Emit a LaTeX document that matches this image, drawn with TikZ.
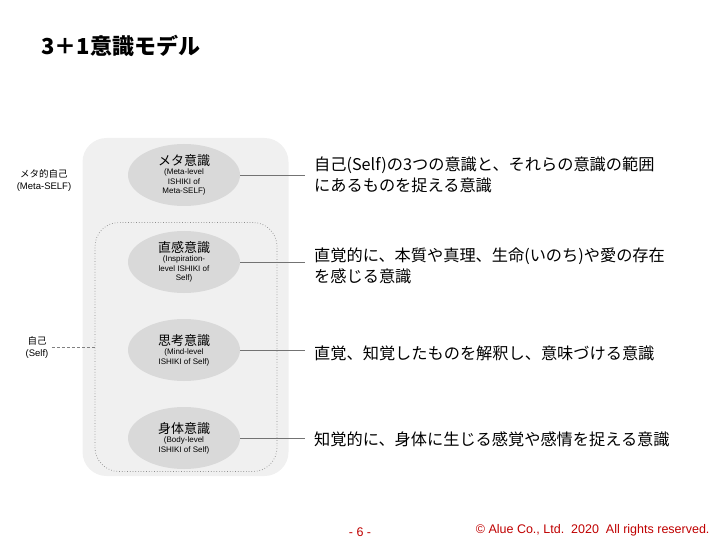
\documentclass[tikz,border=0pt]{standalone}
\usepackage{fontspec}
\setmainfont{Liberation Sans}
\newfontfamily\jp{Noto Sans CJK JP}
\usetikzlibrary{shapes.geometric}
\begin{document}
\begin{tikzpicture}[x=1pt,y=-1pt,
  ell/.style={ellipse,fill=black!15,minimum width=112pt,minimum height=62pt,inner sep=0pt,align=center,font=\fontsize{8}{9.5}\selectfont},
  desc/.style={anchor=west,align=left,inner sep=0pt,font=\jp\fontsize{16.2}{21}\selectfont},
  conn/.style={draw=black!55,line width=0.6pt},
  side/.style={align=center,font=\fontsize{9.5}{12}\selectfont}]
\path[use as bounding box] (0,0) rectangle (720,540);
\node[anchor=west,font=\jp\bfseries\fontsize{22}{26}\selectfont] (title) at (38,46) {3＋1意識モデル};
\node[draw=none,fill=black!6,rounded corners=24pt,minimum width=206pt,minimum height=338pt] (outer) at (185.5,307) {};
\node[draw=black!45,dotted,line width=0.7pt,rounded corners=24pt,minimum width=182pt,minimum height=249pt] (inner) at (186,347) {};
\node[ell] (e1) at (184,175) {{\jp\fontsize{13}{15}\selectfont メタ意識}\\(Meta-level\\ISHIKI of\\Meta-SELF)};
\node[ell] (e2) at (184,262) {{\jp\fontsize{13}{15}\selectfont 直感意識}\\(Inspiration-\\level ISHIKI of\\Self)};
\node[ell] (e3) at (184,350) {{\jp\fontsize{13}{15}\selectfont 思考意識}\\(Mind-level\\ISHIKI of Self)};
\node[ell] (e4) at (184,438) {{\jp\fontsize{13}{15}\selectfont 身体意識}\\(Body-level\\ISHIKI of Self)};
\node[desc] (d1) at (314,175) {自己(Self)の3つの意識と、それらの意識の範囲\\にあるものを捉える意識};
\node[desc] (d2) at (314,266) {直覚的に、本質や真理、生命(いのち)や愛の存在\\を感じる意識};
\node[desc] (d3) at (314,353) {直覚、知覚したものを解釈し、意味づける意識};
\node[desc] (d4) at (314,439) {知覚的に、身体に生じる感覚や感情を捉える意識};
\draw[conn] (e1.east) -- ([xshift=-9pt]e1.east -| d1.west);
\draw[conn] (e2.east) -- ([xshift=-9pt]e2.east -| d2.west);
\draw[conn] (e3.east) -- ([xshift=-9pt]e3.east -| d3.west);
\draw[conn] (e4.east) -- ([xshift=-9pt]e4.east -| d4.west);
\node[side] (meta) at (44,180) {{\jp メタ的自己}\\(Meta-SELF)};
\node[side] (self) at (37,347) {{\jp 自己}\\(Self)};
\draw[black!50,densely dashed,line width=0.5pt] (self.east) -- (inner.west |- self.east);
\node[text=red!75!black,font=\fontsize{12.5}{15}\selectfont] (pg) at (360,532) {- 6 -};
\node[anchor=east,text=red!75!black,font=\fontsize{12.5}{15}\selectfont] (cr) at (713,530) {© Alue Co., Ltd.\ \ 2020\ \ All rights reserved.};
\end{tikzpicture}
\end{document}
